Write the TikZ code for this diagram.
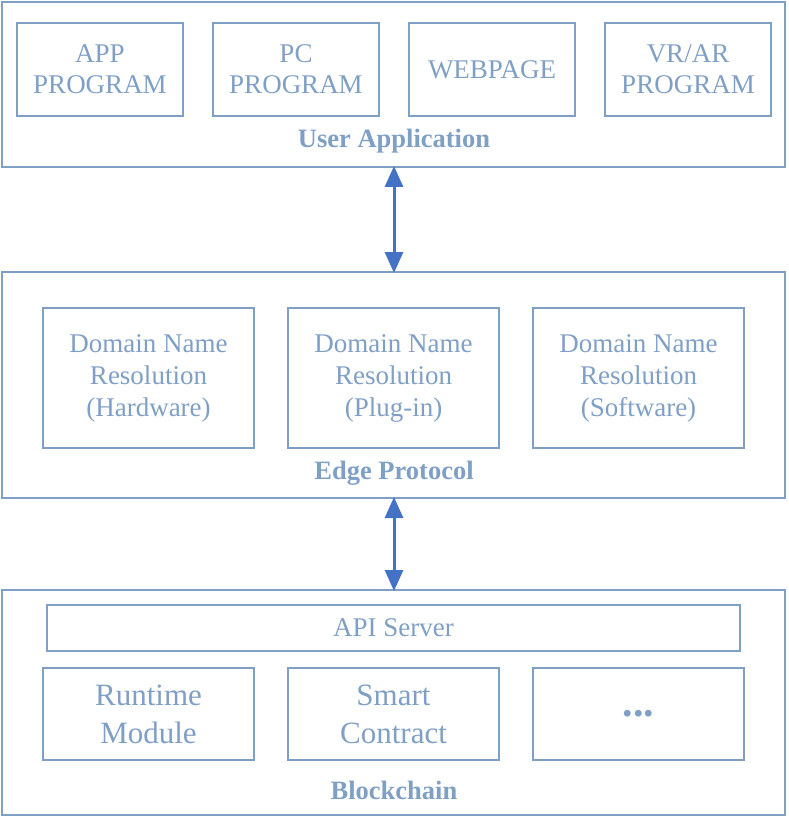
\documentclass[tikz,border=0pt]{standalone}
\usepackage{fontspec}
\setmainfont{Liberation Serif}
\usetikzlibrary{arrows.meta}
\definecolor{bcol}{HTML}{7F9FC4}
\definecolor{acol}{HTML}{4472C4}
\tikzset{
  frame/.style={draw=bcol, line width=2pt, inner sep=0pt},
  inbox/.style={draw=bcol, line width=2pt, inner sep=0pt, text=bcol, align=center,
     font=\fontsize{27}{31}\selectfont},
  dnbox/.style={inbox, font=\fontsize{27}{32}\selectfont},
  bigbox/.style={inbox, font=\fontsize{31}{38}\selectfont},
  title/.style={text=bcol, font=\fontsize{26.5}{30}\selectfont\bfseries, inner sep=0pt},
  conn/.style={draw=acol, line width=3pt, {Triangle[width=18pt,length=21pt]}-{Triangle[width=18pt,length=21pt]}, shorten <=-1pt, shorten >=-1pt}
}
\newcommand{\bx}[6]{\node[#1, minimum width=#4pt-#2pt, minimum height=#5pt-#3pt] (#6) at ({(#2+#4)/2},{(#3+#5)/2}) }
\begin{document}
\begin{tikzpicture}[x=1pt,y=-1pt]
\useasboundingbox (0,0) rectangle (788,818);
% frames
\bx{frame}{2}{2}{785}{167}{ua} {};
\bx{frame}{2}{272}{785}{498}{ep} {};
\bx{frame}{2}{590}{785}{815}{bc} {};
% top row
\bx{inbox}{17}{23}{183}{116}{app} {APP\\PROGRAM};
\bx{inbox}{213}{23}{379}{116}{pc} {PC\\PROGRAM};
\bx{inbox}{409}{23}{575}{116}{web} {WEBPAGE};
\bx{inbox}{605}{23}{771}{116}{vr} {VR/AR\\PROGRAM};
\node[title] (uat) at (394,141) {User Application};
% middle row
\bx{dnbox}{43}{308}{254}{448}{dh} {Domain Name\\Resolution\\(Hardware)};
\bx{dnbox}{288}{308}{499}{448}{dp} {Domain Name\\Resolution\\(Plug-in)};
\bx{dnbox}{533}{308}{744}{448}{ds} {Domain Name\\Resolution\\(Software)};
\node[title] (ept) at (394,473) {Edge Protocol};
% bottom
\bx{inbox}{47}{605}{740}{651}{api} {API Server};
\bx{bigbox}{43}{668}{254}{760}{rt} {Runtime\\Module};
\bx{bigbox}{288}{668}{499}{760}{sc} {Smart\\Contract};
\bx{inbox}{533}{668}{744}{760}{dots} {\bfseries\fontsize{42}{42}\selectfont ...};
\node[title] (bct) at (394,790) {Blockchain};
% arrows
\coordinate (a1) at (394,167);
\coordinate (a2) at (394,272);
\coordinate (b1) at (394,498);
\coordinate (b2) at (394,590);
\draw[conn] (a1) -- (a2);
\draw[conn] (b1) -- (b2);
\end{tikzpicture}
\end{document}
